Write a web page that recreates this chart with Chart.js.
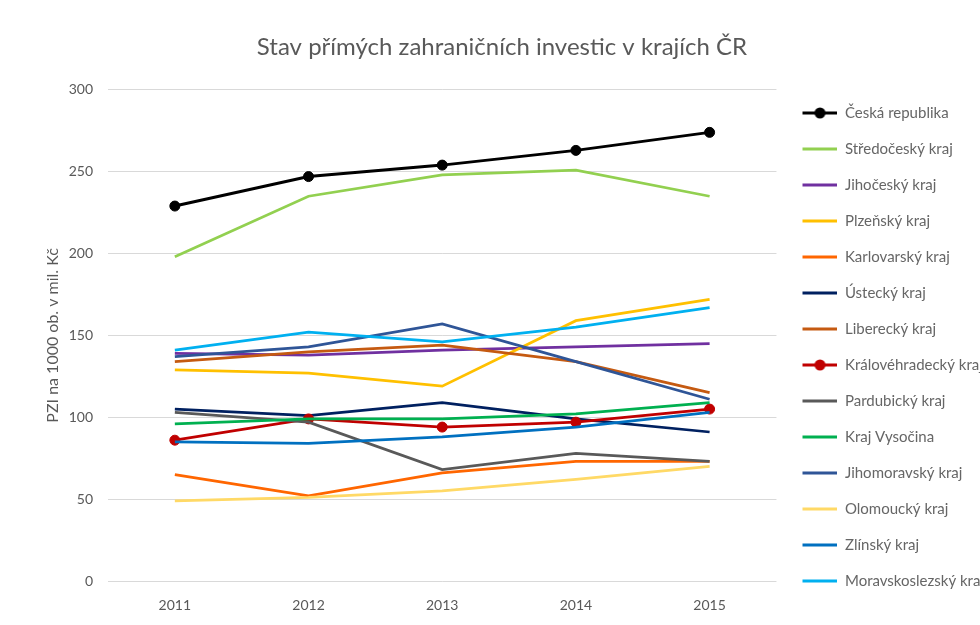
<!DOCTYPE html>
<html>
<head>
<meta charset="utf-8">
<script src="https://cdn.jsdelivr.net/npm/chart.js@4.4.1/dist/chart.umd.min.js"></script>
<style>
html, body { margin: 0; padding: 0; background: #fff; overflow: hidden; }
</style>
</head>
<body>
<canvas id="chartCanvas" width="994" height="625"></canvas>
<script>
// roky a kraje
const roky = ['2011', '2012', '2013', '2014', '2015'];
const kraje = ['Česká republika', 'Středočeský kraj', 'Jihočeský kraj', 'Plzeňský kraj',
    'Karlovarský kraj', 'Ústecký kraj', 'Liberecký kraj', 'Královéhradecký kraj',
    'Pardubický kraj', 'Kraj Vysočina', 'Jihomoravský kraj', 'Olomoucký kraj',
    'Zlínský kraj', 'Moravskoslezský kraj'];

// PZI na 1000 obyvatel (mil. Kč)
const ceskaRepublika = [229, 247, 254, 263, 274];
const stredocesky = [198, 235, 248, 251, 235];
const jihocesky = [139, 138, 141, 143, 145];
const plzensky = [129, 127, 119, 159, 172];
const karlovarsky = [65, 52, 66, 73, 73];
const ustecky = [105, 101, 109, 99, 91];
const liberecky = [134, 140, 144, 134, 115];
const kralovehradecky = [86, 99, 94, 97, 105];
const pardubicky = [103, 97, 68, 78, 73];
const vysocina = [96, 99, 99, 102, 109];
const jihomoravsky = [137, 143, 157, 134, 111];
const olomoucky = [49, 51, 55, 62, 70];
const zlinsky = [85, 84, 88, 94, 103];
const moravskoslezsky = [141, 152, 146, 155, 167];

const tickyY = [0, 50, 100, 150, 200, 250, 300];

const hodnoty = [ceskaRepublika, stredocesky, jihocesky, plzensky, karlovarsky, ustecky,
    liberecky, kralovehradecky, pardubicky, vysocina, jihomoravsky, olomoucky, zlinsky,
    moravskoslezsky];
const barvy = ['#000000', '#92D050', '#7030A0', '#FFC000', '#FF6600', '#002060', '#C55A11',
    '#C00000', '#595959', '#00B050', '#2F5597', '#FFD966', '#0070C0', '#00B0F0'];
const sBody = [true, false, false, false, false, false, false, true, false, false, false, false, false, false];

function legendIcon(color, marker) {
    const c = document.createElement('canvas');
    c.width = 40;
    c.height = 14;
    const g = c.getContext('2d');
    g.strokeStyle = color;
    g.lineWidth = 3;
    g.beginPath();
    g.moveTo(5, 7);
    g.lineTo(40, 7);
    g.stroke();
    if (marker) {
        g.fillStyle = color;
        g.beginPath();
        g.arc(22.5, 7, 5.5, 0, Math.PI * 2);
        g.fill();
    }
    return c;
}

const ikony = barvy.map((b, i) => legendIcon(b, sBody[i]));

const datasets = kraje.map((nazev, i) => ({
    label: nazev,
    data: hodnoty[i],
    borderColor: barvy[i],
    backgroundColor: barvy[i],
    borderWidth: i === 0 ? 3 : 2.75,
    pointRadius: sBody[i] ? 5 : 0,
    pointBorderWidth: 1,
    pointHoverRadius: sBody[i] ? 5 : 0,
    tension: 0,
    order: -i
}));

let ctx = document.querySelector('#chartCanvas');

let graf = new Chart(ctx, {
    type: 'line',
    data: {
        labels: roky,
        datasets: datasets
    },
    options: {
        responsive: false,
        animation: false,
        layout: {
            padding: { left: 10, right: 0, top: 0, bottom: 0 }
        },
        scales: {
            x: {
                offset: true,
                afterFit: (axis) => { axis.height = 44; },
                grid: { display: false, drawTicks: false },
                border: { display: false },
                ticks: {
                    padding: 16,
                    color: '#595959',
                    font: { family: 'Lato', size: 14 }
                }
            },
            y: {
                min: 0,
                max: 300,
                afterBuildTicks: (axis) => { axis.ticks = tickyY.map(v => ({ value: v })); },
                afterFit: (axis) => { axis.width = 98; },
                grid: { color: '#d9d9d9', lineWidth: 1, drawTicks: false },
                border: { display: false },
                ticks: {
                    padding: 15,
                    color: '#595959',
                    font: { family: 'Lato', size: 14 }
                },
                title: {
                    display: true,
                    text: 'PZI na 1000 ob. v mil. Kč',
                    color: '#595959',
                    font: { family: 'Lato', size: 16 },
                    padding: { top: 33, bottom: 0 }
                }
            }
        },
        plugins: {
            title: {
                display: true,
                text: 'Stav přímých zahraničních investic v krajích ČR',
                color: '#595959',
                font: { family: 'Lato', size: 24, weight: 'normal' },
                padding: { top: 33, bottom: 28 }
            },
            legend: {
                display: true,
                position: 'right',
                align: 'start',
                title: {
                    display: true,
                    text: ' ',
                    font: { size: 10 },
                    padding: { top: 72.5, bottom: 0 }
                },
                labels: {
                    usePointStyle: true,
                    pointStyleWidth: 40,
                    padding: 21,
                    color: '#595959',
                    font: { family: 'Lato', size: 15 },
                    generateLabels: (chart) => chart.data.datasets.map((ds, i) => ({
                        text: ds.label,
                        pointStyle: ikony[i],
                        fillStyle: ds.borderColor,
                        strokeStyle: ds.borderColor,
                        lineWidth: 0,
                        hidden: false,
                        datasetIndex: i
                    }))
                }
            },
            tooltip: { enabled: false }
        }
    }
});
</script>
</body>
</html>
